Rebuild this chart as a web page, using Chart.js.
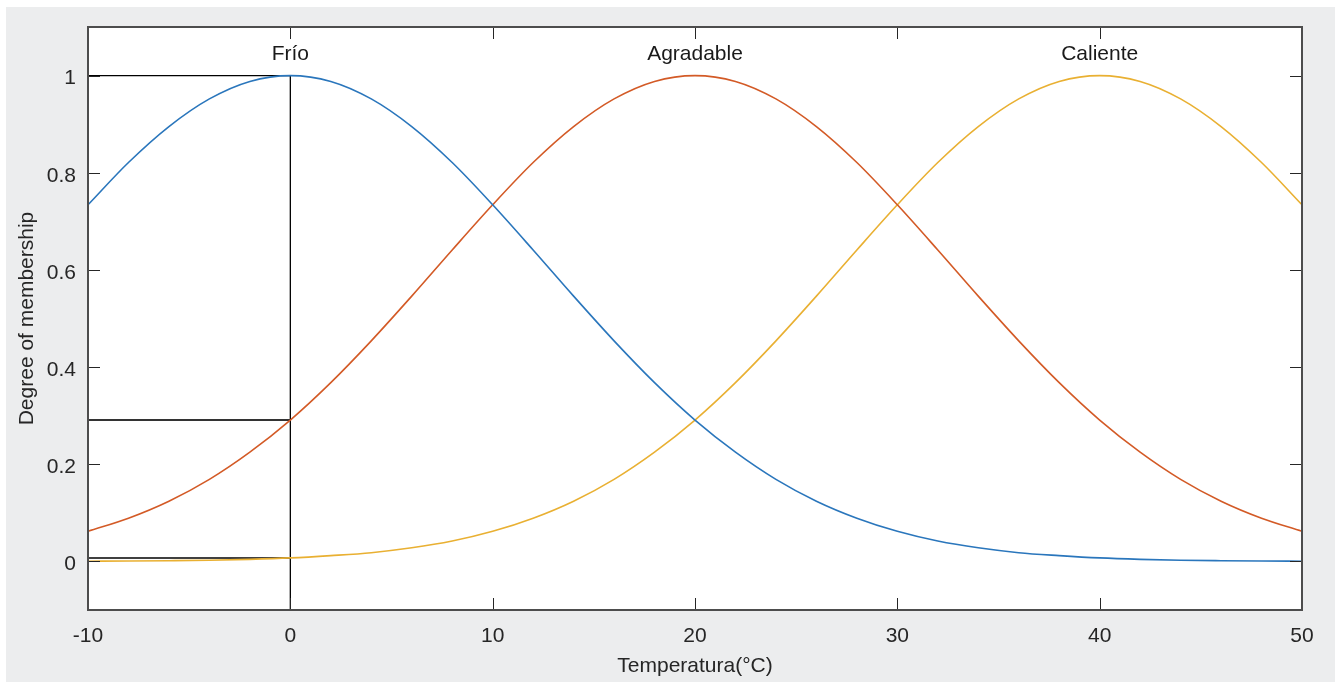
<!DOCTYPE html>
<html>
  <head>
    <meta charset="utf-8" />
    <title>Temperatura</title>
    <script src="https://cdn.jsdelivr.net/npm/chart.js"></script>
    <style>
      html, body { margin: 0; padding: 0; background: #ffffff; }
      #wrap { width: 1335px; height: 682px; }
    </style>
  </head>
  <body>
    <div id="wrap"><canvas id="myChart" width="1335" height="682"></canvas></div>
    <script>
      // temperatures sampled every 2 degrees
      const temps = [-10, -8, -6, -4, -2, 0, 2, 4, 6, 8, 10, 12, 14, 16, 18, 20,
        22, 24, 26, 28, 30, 32, 34, 36, 38, 40, 42, 44, 46, 48, 50];

      const frio = [0.734, 0.821, 0.895, 0.952, 0.988, 1, 0.988, 0.952, 0.895, 0.821, 0.734,
        0.641, 0.546, 0.454, 0.368, 0.291, 0.225, 0.169, 0.124, 0.089, 0.062,
        0.042, 0.028, 0.018, 0.012, 0.0072, 0.0043, 0.0025, 0.0015, 0.0008, 0.0004];
      const agradable = [0.062, 0.089, 0.124, 0.169, 0.225, 0.291, 0.368, 0.454, 0.546, 0.641, 0.734,
        0.821, 0.895, 0.952, 0.988, 1, 0.988, 0.952, 0.895, 0.821, 0.734,
        0.641, 0.546, 0.454, 0.368, 0.291, 0.225, 0.169, 0.124, 0.089, 0.062];
      const caliente = [0.0004, 0.0008, 0.0015, 0.0025, 0.0043, 0.0072, 0.012, 0.018, 0.028, 0.042, 0.062,
        0.089, 0.124, 0.169, 0.225, 0.291, 0.368, 0.454, 0.546, 0.641, 0.734,
        0.821, 0.895, 0.952, 0.988, 1, 0.988, 0.952, 0.895, 0.821, 0.734];

      const setNames = ["Frío", "Agradable", "Caliente"];
      const setCenters = [0, 20, 40];
      const setColors = ["#2a76bc", "#d35a26", "#e9b032"];

      // evaluated input and the membership read at it
      const inputTemp = 0;
      const inputMembers = [1, 0.291, 0.007];

      const xTicks = [-10, 0, 10, 20, 30, 40, 50];
      const yTicks = [0, 0.2, 0.4, 0.6, 0.8, 1];

      const pts = (ys) => temps.map((t, i) => ({ x: t, y: ys[i] }));

      const datasets = [frio, agradable, caliente].map((ys, i) => ({
        data: pts(ys),
        borderColor: setColors[i],
        borderWidth: 1.6,
        pointRadius: 0,
        cubicInterpolationMode: "monotone",
        fill: false,
      }));

      // black guide lines
      inputMembers.forEach((m, i) => {
        datasets.push({
          data: [{ x: -10, y: m }, { x: inputTemp, y: m }],
          borderColor: i === 1 ? "#333333" : "#000000",
          borderWidth: i === 1 ? 2 : 1.3,
          pointRadius: 0,
          tension: 0,
        });
      });
      datasets.push({
        data: [{ x: inputTemp, y: -0.1 }, { x: inputTemp, y: 1 }],
        borderColor: "#000000",
        borderWidth: 1.3,
        pointRadius: 0,
        tension: 0,
      });

      const txt = "#262626";
      Chart.defaults.font.family = "'Liberation Sans', Arial, sans-serif";
      Chart.defaults.font.size = 21;
      Chart.defaults.color = txt;

      const figure = {
        id: "figure",
        beforeDraw(chart) {
          const { ctx, chartArea: a } = chart;
          ctx.save();
          ctx.fillStyle = "#ecedee";
          ctx.fillRect(6, 7, chart.width - 6, chart.height - 7);
          ctx.fillStyle = "#ffffff";
          ctx.fillRect(a.left, a.top, a.right - a.left, a.bottom - a.top);
          ctx.restore();
        },
        afterDatasetsDraw(chart) {
          const { ctx, chartArea: a, scales } = chart;
          const tl = 12;
          ctx.save();
          ctx.strokeStyle = "#262626";
          ctx.lineWidth = 1;
          ctx.beginPath();
          xTicks.forEach((v) => {
            const px = Math.round(scales.x.getPixelForValue(v)) + 0.5;
            ctx.moveTo(px, a.bottom); ctx.lineTo(px, a.bottom - tl);
            ctx.moveTo(px, a.top); ctx.lineTo(px, a.top + tl);
          });
          yTicks.forEach((v) => {
            const py = Math.round(scales.y.getPixelForValue(v)) + 0.5;
            ctx.moveTo(a.left, py); ctx.lineTo(a.left + tl, py);
            ctx.moveTo(a.right, py); ctx.lineTo(a.right - tl, py);
          });
          ctx.stroke();
          ctx.strokeStyle = "#4d4d4d";
          ctx.lineWidth = 2;
          ctx.strokeRect(a.left, a.top, a.right - a.left, a.bottom - a.top);

          ctx.fillStyle = "#1a1a1a";
          ctx.font = "21px 'Liberation Sans', Arial, sans-serif";
          ctx.textAlign = "center";
          ctx.textBaseline = "middle";
          setNames.forEach((n, i) => {
            ctx.fillText(n, scales.x.getPixelForValue(setCenters[i]), scales.y.getPixelForValue(1.044));
          });
          ctx.restore();
        },
      };

      new Chart(document.getElementById("myChart"), {
        type: "line",
        data: { datasets: datasets },
        plugins: [figure],
        options: {
          responsive: false,
          animation: false,
          layout: { padding: { left: 0, top: 27, right: 33, bottom: 0 } },
          plugins: { legend: { display: false }, tooltip: { enabled: false } },
          scales: {
            x: {
              type: "linear",
              min: -10,
              max: 50,
              grid: { display: false, drawTicks: false },
              border: { display: false },
              afterBuildTicks: (s) => { s.ticks = xTicks.map((v) => ({ value: v })); },
              afterFit: (s) => { s.height = 72; },
              ticks: { padding: 14, maxRotation: 0, callback: (v) => String(v) },
              title: { display: true, text: "Temperatura(°C)", padding: { top: 0, bottom: 3 } },
            },
            y: {
              type: "linear",
              min: -0.1,
              max: 1.1,
              grid: { display: false, drawTicks: false },
              border: { display: false },
              afterBuildTicks: (s) => { s.ticks = yTicks.map((v) => ({ value: v })); },
              afterFit: (s) => { s.width = 88; },
              ticks: { padding: 12, labelOffset: 3, callback: (v) => String(v) },
              title: { display: true, text: "Degree of membership", padding: { top: 15, bottom: 0 } },
            },
          },
        },
      });
    </script>
  </body>
</html>
